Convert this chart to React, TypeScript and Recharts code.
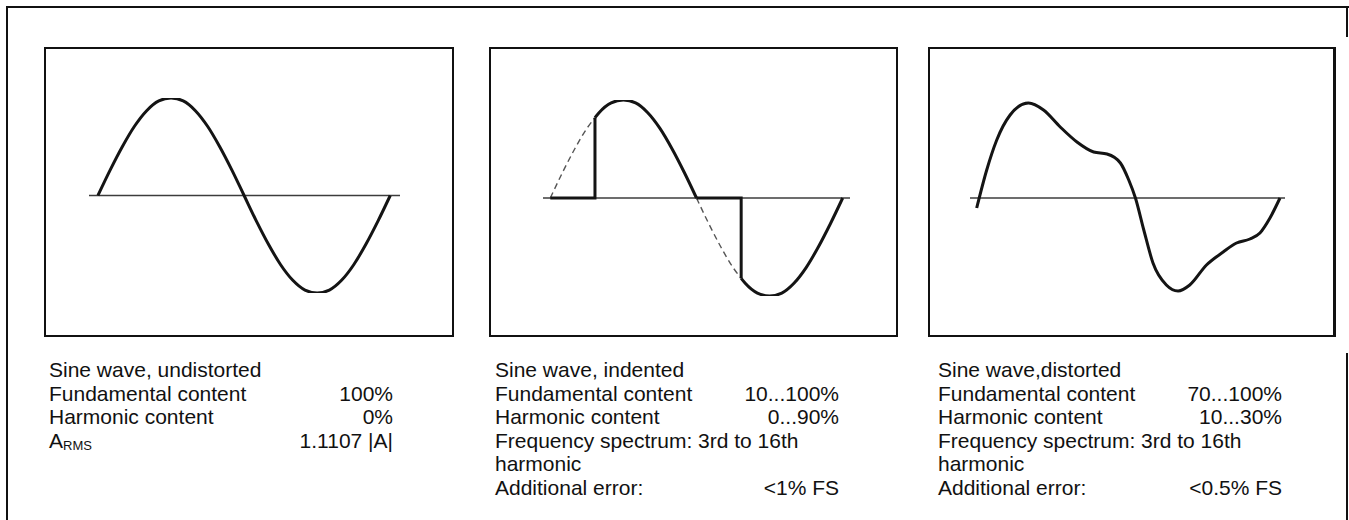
import React from "react";
import { Line, LineChart, ReferenceLine, XAxis, YAxis } from "recharts";

// phase in degrees, amplitude normalised to the fundamental peak
const sinePhase = [0, 15, 30, 45, 60, 75, 90, 105, 120, 135, 150, 165, 180, 195, 210, 225, 240, 255, 270, 285, 300, 315, 330, 345, 360];
const sineValues = [0, 0.26, 0.5, 0.71, 0.87, 0.97, 1, 0.97, 0.87, 0.71, 0.5, 0.26, 0, -0.26, -0.5, -0.71, -0.87, -0.97, -1, -0.97, -0.87, -0.71, -0.5, -0.26, 0];

// indented sine (phase-cut at ~55 deg in each half wave)
const cutFlatPhase = [0, 55, 55];
const cutFlatValues = [0, 0, 0.82];
const cutUpperPhase = [55, 60, 75, 90, 105, 120, 135, 150, 165, 180];
const cutUpperValues = [0.82, 0.87, 0.97, 1, 0.97, 0.87, 0.71, 0.5, 0.26, 0];
const cutFlat2Phase = [180, 235, 235];
const cutFlat2Values = [0, 0, -0.82];
const cutLowerPhase = [235, 240, 255, 270, 285, 300, 315, 330, 345, 360];
const cutLowerValues = [-0.82, -0.87, -0.97, -1, -0.97, -0.87, -0.71, -0.5, -0.26, 0];
const missingPhase = [0, 15, 30, 45, 55];
const missingValues = [0, 0.26, 0.5, 0.71, 0.82];
const missing2Phase = [180, 195, 210, 225, 235];
const missing2Values = [0, -0.26, -0.5, -0.71, -0.82];

// distorted sine with harmonics
const distPhase = [-3, 9, 21, 37, 59, 77, 97, 117, 137, 153, 169, 179, 187, 197, 208, 224, 238, 252, 272, 292, 308, 324, 336, 348, 360];
const distValues = [-0.1, 0.28, 0.58, 0.83, 0.95, 0.88, 0.71, 0.56, 0.46, 0.44, 0.35, 0.18, 0, -0.32, -0.65, -0.87, -0.93, -0.87, -0.67, -0.54, -0.45, -0.41, -0.35, -0.2, 0];

const undistortedRows = [
  ["Sine wave, undistorted", ""],
  ["Fundamental content", "100%"],
  ["Harmonic content", "0%"],
  ["A|RMS", "1.1107 |A|"]
];
const indentedRows = [
  ["Sine wave, indented", ""],
  ["Fundamental content", "10...100%"],
  ["Harmonic content", "0...90%"],
  ["Frequency spectrum: 3rd to 16th", ""],
  ["harmonic", ""],
  ["Additional error:", "<1% FS"]
];
const distortedRows = [
  ["Sine wave,distorted", ""],
  ["Fundamental content", "70...100%"],
  ["Harmonic content", "10...30%"],
  ["Frequency spectrum: 3rd to 16th", ""],
  ["harmonic", ""],
  ["Additional error:", "<0.5% FS"]
];

const toPoints = (xs: number[], ys: number[]) => xs.map((deg, i) => ({ deg, v: ys[i] }));

const INK = "#141414";

type Seg = { data: { deg: number; v: number }[]; type: "linear" | "monotone"; dashed?: boolean };

function Wave({
  left,
  top,
  width,
  height,
  margin,
  domain,
  segments,
  borderRight = 2
}: {
  left: number;
  top: number;
  width: number;
  height: number;
  margin: { top: number; right: number; bottom: number; left: number };
  domain: [number, number];
  segments: Seg[];
  borderRight?: number;
}) {
  return (
    <>
      <div style={{ position: "absolute", left, top, width, height }}>
        <LineChart width={width} height={height} margin={margin}>
          <XAxis type="number" dataKey="deg" domain={domain} allowDataOverflow hide />
          <YAxis type="number" domain={[-1, 1]} allowDataOverflow hide />
          <ReferenceLine y={0} stroke="#3c3c3c" strokeWidth={1.6} ifOverflow="extendDomain" />
          {segments.map((s, i) => (
            <Line
              key={i}
              data={s.data}
              dataKey="v"
              type={s.type}
              stroke={s.dashed ? "#555" : INK}
              strokeWidth={s.dashed ? 1.4 : 3}
              strokeDasharray={s.dashed ? "6 4" : undefined}
              dot={false}
              activeDot={false}
              isAnimationActive={false}
            />
          ))}
        </LineChart>
      </div>
      <div
        style={{
          position: "absolute",
          left,
          top,
          width,
          height,
          boxSizing: "border-box",
          border: "2px solid #111",
          borderRightWidth: borderRight,
          pointerEvents: "none"
        }}
      />
    </>
  );
}

function Info({ left, rows }: { left: number; rows: string[][] }) {
  return (
    <div style={{ position: "absolute", left, top: 358, width: 344, fontSize: 21, lineHeight: "23.5px", color: "#111" }}>
      {rows.map(([label, value], i) => (
        <div key={i} style={{ display: "flex", justifyContent: "space-between", height: 23.5, whiteSpace: "nowrap" }}>
          <span>
            {label.includes("|") ? (
              <>
                {label.split("|")[0]}
                <span style={{ fontSize: 13, position: "relative", top: 2 }}>{label.split("|")[1]}</span>
              </>
            ) : (
              label
            )}
          </span>
          <span>{value}</span>
        </div>
      ))}
    </div>
  );
}

export default function App() {
  return (
    <div
      style={{
        position: "absolute",
        left: 0,
        top: 0,
        width: 1349,
        height: 520,
        background: "#fff",
        overflow: "hidden",
        fontFamily: "'Liberation Sans', Arial, Helvetica, sans-serif"
      }}
    >
      {/* outer frame */}
      <div style={{ position: "absolute", left: 6, top: 6, width: 1343, height: 2, background: "#111" }} />
      <div style={{ position: "absolute", left: 6, top: 6, width: 2, height: 514, background: "#111" }} />
      <div style={{ position: "absolute", left: 1346, top: 6, width: 2, height: 31, background: "#111" }} />
      <div style={{ position: "absolute", left: 1346, top: 353, width: 2, height: 167, background: "#111" }} />

      <Wave
        left={44}
        top={47}
        width={410}
        height={290}
        margin={{ top: 51, right: 54, bottom: 44, left: 45 }}
        domain={[-11, 372]}
        segments={[{ data: toPoints(sinePhase, sineValues), type: "monotone" }]}
      />
      <Wave
        left={489}
        top={47}
        width={409}
        height={290}
        margin={{ top: 53, right: 48, bottom: 41, left: 54 }}
        domain={[-9, 369]}
        segments={[
          { data: toPoints(missingPhase, missingValues), type: "monotone", dashed: true },
          { data: toPoints(missing2Phase, missing2Values), type: "monotone", dashed: true },
          { data: toPoints(cutFlatPhase, cutFlatValues), type: "linear" },
          { data: toPoints(cutUpperPhase, cutUpperValues), type: "monotone" },
          { data: toPoints(cutFlat2Phase, cutFlat2Values), type: "linear" },
          { data: toPoints(cutLowerPhase, cutLowerValues), type: "monotone" }
        ]}
      />
      <Wave
        left={928}
        top={47}
        width={408}
        height={290}
        margin={{ top: 51, right: 51, bottom: 39, left: 42 }}
        domain={[-11, 366]}
        borderRight={3}
        segments={[{ data: toPoints(distPhase, distValues), type: "monotone" }]}
      />

      <Info left={49} rows={undistortedRows} />
      <Info left={495} rows={indentedRows} />
      <Info left={938} rows={distortedRows} />
    </div>
  );
}
